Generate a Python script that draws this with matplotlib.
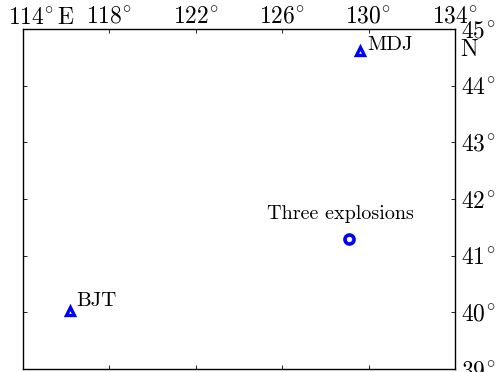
import matplotlib
matplotlib.use("Agg")
import matplotlib.pyplot as plt
import matplotlib.transforms as mtransforms

plt.rcParams['font.family'] = 'serif'
plt.rcParams['font.serif'] = ['cmr10', 'DejaVu Serif']
plt.rcParams['mathtext.fontset'] = 'cm'
plt.rcParams['axes.unicode_minus'] = False

# map extent (degrees)
lon_min, lon_max = 114, 134
lat_min, lat_max = 39, 45
lon_ticks = [114, 118, 122, 126, 130, 134]
lat_ticks = [39, 40, 41, 42, 43, 44, 45]

# seismic stations
station_names = ['MDJ', 'BJT']
station_lon = [129.59, 116.17]
station_lat = [44.62, 40.02]

# explosion site
event_name = 'Three explosions'
event_lon = [129.08]
event_lat = [41.30]

FS = 17


def deg(v):
    return r'$%d^{\!\circ}$' % v


fig = plt.figure(figsize=(5, 3.72), dpi=100)
ax = fig.add_axes([0.046, 0.008, 0.864, 0.914])
ax.set_xlim(lon_min, lon_max)
ax.set_ylim(lat_min, lat_max)

ax.plot(station_lon, station_lat, '^', ms=6, mfc='none', mec='blue', mew=2.4)
ax.plot(event_lon, event_lat, 'o', ms=6.5, mfc='none', mec='blue', mew=2.6)

ax.text(station_lon[0] + 0.35, station_lat[0] + 0.1, station_names[0],
        fontsize=FS-2, ha='left', va='center')
ax.text(station_lon[1] + 0.3, station_lat[1] + 0.18, station_names[1],
        fontsize=FS-2, ha='left', va='center')
ax.text(event_lon[0] - 0.4, event_lat[0] + 0.43, event_name,
        fontsize=FS-2.5, ha='center', va='center')

# meridians labelled on top, parallels on the right
ax.set_xticks(lon_ticks)
ax.set_yticks(lat_ticks)
ax.set_xticklabels([''] + [deg(v) for v in lon_ticks[1:]])
ax.set_yticklabels([deg(v) for v in lat_ticks])
ax.tick_params(axis='x', which='both', top=True, bottom=True, labeltop=True,
               labelbottom=False, direction='in', length=3, pad=1,
               labelsize=FS, width=0.6)
ax.tick_params(axis='y', which='both', left=True, right=True, labelright=True,
               labelleft=False, direction='in', length=3, pad=4,
               labelsize=FS, width=0.6)

ax.text(-15 / 432, 1.0, r'$114^{\!\circ}\mathrm{E}$', transform=ax.transAxes,
        fontsize=FS, ha='left', va='bottom')
ax.text(1.0, 1.0, 'N', transform=ax.transAxes + mtransforms.ScaledTranslation(
        5 / 100, -21 / 100, fig.dpi_scale_trans),
        fontsize=FS, ha='left', va='center')

for s in ax.spines.values():
    s.set_linewidth(1.0)

fig.savefig('out.png', dpi=100)
